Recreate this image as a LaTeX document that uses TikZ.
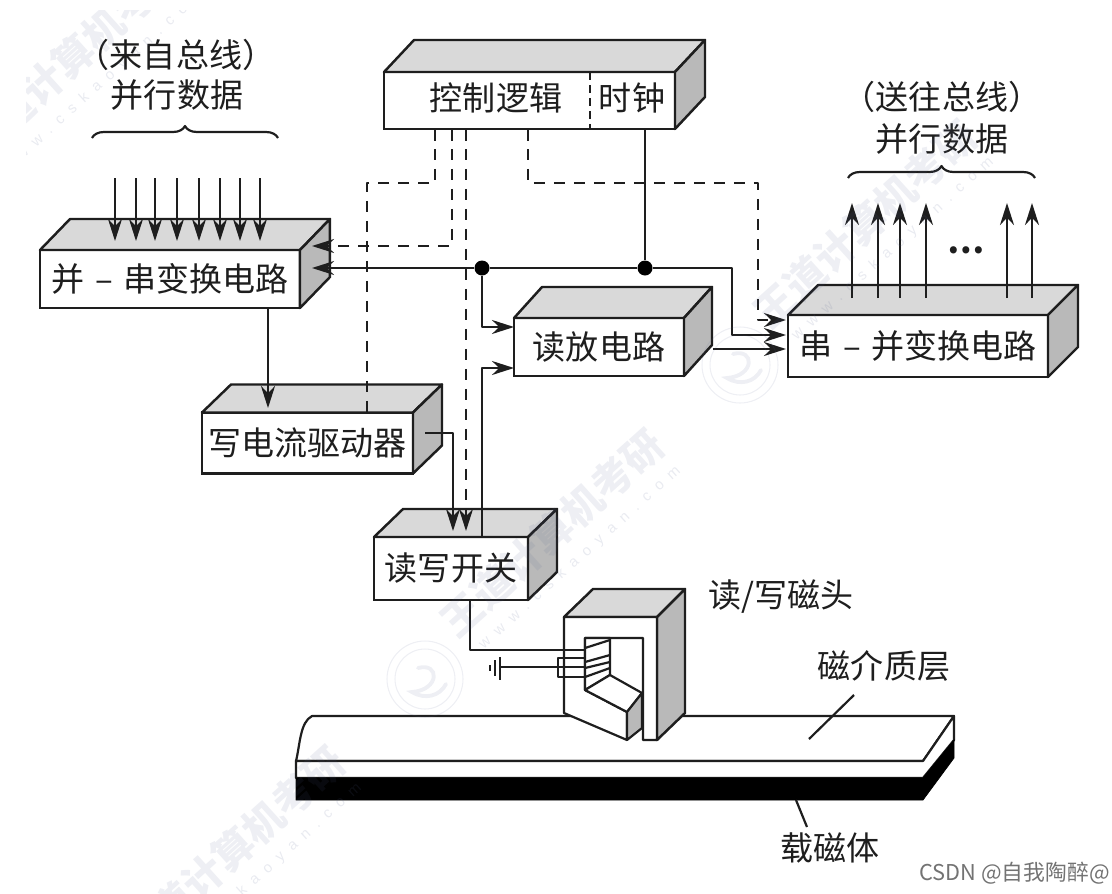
\documentclass[tikz,border=0pt]{standalone}
\usepackage{fontspec}
\setmainfont{Noto Sans CJK SC}
\newfontfamily\urlfont[LetterSpace=60]{Liberation Sans}
\usetikzlibrary{arrows.meta,decorations.pathreplacing}
\definecolor{inkc}{HTML}{1E1E1E}
\definecolor{topc}{HTML}{D9D9D9}
\definecolor{sidec}{HTML}{B9B9B9}
\definecolor{markc}{HTML}{56628F}
\tikzset{
  lab/.style={font=\fontsize{18.8}{22}\selectfont, inner sep=0pt, text=inkc},
  front/.style={draw=inkc, line width=1.4pt, fill=white, rectangle, inner sep=0pt, outer sep=0pt, lab},
  topface/.style={draw=inkc, line width=1.4pt, fill=topc, line join=round},
  sideface/.style={draw=inkc, line width=1.4pt, fill=sidec, line join=round},
  plain/.style={draw=inkc, line width=1.25pt, line join=round},
  flow/.style={plain, -{Stealth[length=.44cm, width=.28cm]}},
  ctrlline/.style={plain, dash pattern=on .23cm off .17cm},
  ctrlflow/.style={ctrlline, -{Stealth[length=.44cm, width=.28cm]}},
  junct/.style={circle, fill=black, inner sep=0pt, minimum size=.3cm},
  wmark/.style={font=\fontsize{23}{25}\selectfont\bfseries, text=markc, text opacity=.1, rotate=42, inner sep=0pt},
  wurl/.style={font=\urlfont\fontsize{8.5}{10}\selectfont, text=markc, text opacity=.13, rotate=42, inner sep=0pt},
  stamp/.style={circle, draw=markc, draw opacity=.1, line width=.6pt, inner sep=0pt},
  swirl/.style={draw=markc, draw opacity=.1, line width=2.2pt, line cap=round},
}
\newcommand{\boxfaces}[3]{%
\draw[topface] (#1.north west) -- ++(#2,-#3) -- ([shift={(#2,-#3)}]#1.north east) -- (#1.north east) -- cycle;
\draw[sideface] (#1.north east) -- ++(#2,-#3) -- ([shift={(#2,-#3)}]#1.south east) -- (#1.south east) -- cycle;
}
\begin{document}
\begin{tikzpicture}[x=0.02cm, y=-0.02cm]
\useasboundingbox (0,0) rectangle (1112,893);

\draw[plain, fill=white] (296,761) .. controls (300,745) and (300,722) .. (312,716) -- (954,716) -- (923,761) -- cycle;
\draw[plain, fill=white] (296,761) -- (923,761) -- (954,716) -- (954,740) -- (923,778) -- (296,778) -- cycle;
\draw[fill=black, draw=black] (296,778) -- (923,778) -- (954,740) -- (954,758) -- (923,800) -- (296,800) -- cycle;
\draw[plain] (854,695) -- (809,739);
\draw[plain] (796,800) -- (807,827);

\node[front, minimum width=5.82cm, minimum height=1.14cm] (ctrl) at (529.5,100.5){};
\boxfaces{ctrl}{30}{32}
\node[lab] (ctrltxt) at (496,98){控制逻辑};
\node[lab] (clktxt) at (632,98){时钟};
\coordinate (diva) at (590,72);
\coordinate (divb) at (590,129);
\draw[plain, dash pattern=on .16cm off .1cm] (diva) -- (divb);

\node[front, minimum width=5.2cm, minimum height=1.16cm] (psconv) at (170,279){并\,\,–\,\,串变换电路};
\boxfaces{psconv}{30}{31}
\node[front, minimum width=4.22cm, minimum height=1.22cm] (wrdrv) at (307.5,443){写电流驱动器};
\boxfaces{wrdrv}{29}{28}
\node[front, minimum width=3.4cm, minimum height=1.16cm] (rdamp) at (599,347){读放电路};
\boxfaces{rdamp}{28}{31}
\node[front, minimum width=5.2cm, minimum height=1.24cm] (spconv) at (918,346){串\,\,–\,\,并变换电路};
\boxfaces{spconv}{30}{30}
\node[front, minimum width=3.08cm, minimum height=1.26cm] (rwsw) at (451,568.5){读写开关};
\boxfaces{rwsw}{29}{28}

\coordinate (ina0) at (115,178); \coordinate (inb0) at (115,241);
\coordinate (ina1) at (136,178); \coordinate (inb1) at (136,241);
\coordinate (ina2) at (155,178); \coordinate (inb2) at (155,241);
\coordinate (ina3) at (177,178); \coordinate (inb3) at (177,241);
\coordinate (ina4) at (199,178); \coordinate (inb4) at (199,241);
\coordinate (ina5) at (220,178); \coordinate (inb5) at (220,241);
\coordinate (ina6) at (240,178); \coordinate (inb6) at (240,241);
\coordinate (ina7) at (260,178); \coordinate (inb7) at (260,241);
\draw[flow](ina0) -- (inb0);
\draw[flow](ina1) -- (inb1);
\draw[flow](ina2) -- (inb2);
\draw[flow](ina3) -- (inb3);
\draw[flow](ina4) -- (inb4);
\draw[flow](ina5) -- (inb5);
\draw[flow](ina6) -- (inb6);
\draw[flow](ina7) -- (inb7);

\coordinate (outa0) at (852,298); \coordinate (outb0) at (852,203);
\coordinate (outa1) at (878,298); \coordinate (outb1) at (878,203);
\coordinate (outa2) at (900,298); \coordinate (outb2) at (900,203);
\coordinate (outa3) at (926,298); \coordinate (outb3) at (926,203);
\coordinate (outa4) at (1007,298); \coordinate (outb4) at (1007,203);
\coordinate (outa5) at (1032,298); \coordinate (outb5) at (1032,203);
\draw[flow](outa0) -- (outb0);
\draw[flow](outa1) -- (outb1);
\draw[flow](outa2) -- (outb2);
\draw[flow](outa3) -- (outb3);
\draw[flow](outa4) -- (outb4);
\draw[flow](outa5) -- (outb5);
\node[lab, font=\fontsize{18.8}{22}\selectfont\bfseries] (moredots) at (966,250){…};

\coordinate (bla) at (92,138);
\coordinate (blb) at (278,138);
\coordinate (bra) at (848,178);
\coordinate (brb) at (1035,178);
\draw[plain, decorate, decoration={brace, amplitude=.24cm}] (bla) -- (blb);
\draw[plain, decorate, decoration={brace, amplitude=.24cm}] (bra) -- (brb);
\node[lab] (srctxt) at (176,55){（来自总线）};
\node[lab] (indata) at (177,95){并行数据};
\node[lab] (dsttxt) at (942,97){（送往总线）};
\node[lab] (outdata) at (942,139){并行数据};

\node[junct] (dota) at (482,268){};
\node[junct] (dotb) at (645,268){};
\coordinate (clkout) at (645,129);
\coordinate (psbus) at (312,268);
\coordinate (psctl) at (312,246);
\coordinate (rdbus) at (514,327);
\coordinate (rdsw) at (514,368);
\coordinate (spctl) at (786,320);
\coordinate (spbus) at (786,335);
\coordinate (rdout) at (713,349);
\coordinate (sprd) at (786,349);
\coordinate (busbend) at (732,268);
\draw[plain](clkout) -- (dotb);
\draw[flow](dotb) -- (dota) -- (psbus);
\draw[flow](dota) |- (rdbus);
\draw[flow](dotb) -- (busbend) |- (spbus);
\draw[flow](rdout) -- (sprd);

\coordinate (psout) at (268,308);
\coordinate (wrin) at (268,408);
\draw[flow](psout) -- (wrin);
\coordinate (wrout) at (425,433);
\coordinate (swwr) at (453,531);
\coordinate (swctl) at (466,531);
\coordinate (swrd) at (482,537);
\draw[flow](wrout) -| (swwr);
\draw[flow](swrd) |- (rdsw);

\coordinate (ctla) at (435,129);
\coordinate (ctlb) at (452,129);
\coordinate (ctlc) at (466,129);
\coordinate (ctld) at (528,129);
\coordinate (wrctl) at (367,412);
\coordinate (benda) at (367,183);
\coordinate (bendb) at (452,246);
\coordinate (bendc) at (758,183);
\draw[ctrlline](ctla) |- (benda) -- (wrctl);
\draw[ctrlflow](ctlb) -- (bendb) -- (psctl);
\draw[ctrlflow](ctlc) -- (swctl);
\draw[ctrlflow](ctld) |- (bendc) |- (spctl);

\draw[topface] (564,617) -- (593,589) -- (685,589) -- (657,617) -- cycle;
\draw[sideface] (657,617) -- (685,589) -- (685,713) -- (657,740) -- cycle;
\draw[plain, fill=white] (564,617) -- (657,617) -- (657,740) -- (643,740) -- (643,638) -- (585,638) -- (585,690) -- (627,712) -- (627,740) -- (564,713) -- cycle;
\draw[plain, fill=white] (585,638) -- (610,638) -- (610,675) -- (585,690) -- cycle;
\draw[plain, fill=white] (585,690) -- (610,675) -- (642,693) -- (627,712) -- cycle;
\draw[sideface, line width=1.25pt] (627,712) -- (642,693) -- (642,728) -- (627,740) -- cycle;
\draw[plain] (585,648) -- (610,640);
\draw[plain] (585,662) -- (610,655);
\draw[plain] (585,668) -- (610,662);
\draw[plain] (585,677) -- (610,668);

\coordinate (swout) at (470,600);
\coordinate (coila) at (585,650);
\coordinate (gnd) at (500,667);
\coordinate (coilb) at (585,667);
\draw[plain](swout) |- (coila);
\draw[plain](gnd) -- (coilb);
\draw[plain, line width=.8pt] (585,658) -- (558,658) -- (558,677) -- (585,677);
\draw[plain] (500,657) -- (500,680);
\draw[plain] (495,660) -- (495,676);
\draw[plain] (490,665) -- (490,671);

\node[lab] (headtxt) at (781,597){读/写磁头};
\node[lab] (layertxt) at (884,666){磁介质层};
\node[lab] (basetxt) at (830,848){载磁体};
\node[font=\fontsize{12.4}{14}\selectfont, text=black!55, inner sep=0pt, anchor=east] (csdn) at (1110,873){CSDN @自我陶醉@};

\begin{scope}
\clip (26,10) rectangle (1112,893);
\node[wmark] (wm0) at (73,57){王道计算机考研};
\node[wmark] (wm1) at (552,533){王道计算机考研};
\node[wmark] (wm2) at (865,224){王道计算机考研};
\node[wmark] (wm3) at (233,850){王道计算机考研};
\node[wurl] (wu0) at (103,82){www.cskaoyan.com};
\node[wurl] (wu1) at (580,558){www.cskaoyan.com};
\node[wurl] (wu2) at (893,249){www.cskaoyan.com};
\node[wurl] (wu3) at (261,875){www.cskaoyan.com};
\node[stamp, minimum size=1.52cm] (st0) at (425,679){};
\node[stamp, minimum size=1.2cm] (st1) at (425,679){};
\node[stamp, minimum size=1.52cm] (st2) at (740,365){};
\node[stamp, minimum size=1.2cm] (st3) at (740,365){};
\draw[swirl] (418,668) .. controls (440,662) and (440,690) .. (412,692) .. controls (425,700) and (440,696) .. (446,684);
\draw[swirl] (733,354) .. controls (755,348) and (755,376) .. (727,378) .. controls (740,386) and (755,382) .. (761,370);
\end{scope}
\end{tikzpicture}
\end{document}
